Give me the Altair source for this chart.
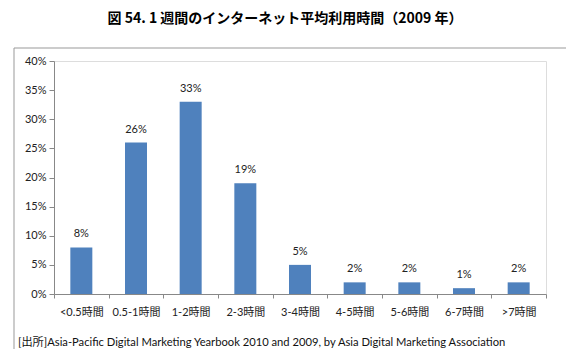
import altair as alt
import pandas as pd

categories = ["<0.5時間", "0.5-1時間", "1-2時間", "2-3時間", "3-4時間", "4-5時間", "5-6時間", "6-7時間", ">7時間"]
values = [8, 26, 33, 19, 5, 2, 2, 1, 2]
y_ticks = [0, 5, 10, 15, 20, 25, 30, 35, 40]
title_text = "図 54. 1 週間のインターネット平均利用時間（2009 年）"
footer_text = "[出所]Asia-Pacific Digital Marketing Yearbook 2010 and 2009,  by Asia Digital Marketing Association"

df = pd.DataFrame({"cat": categories, "val": values, "lbl": [f"{v}%" for v in values]})

FONT = "Lato, Noto Sans CJK JP, sans-serif"

x_enc = alt.X("cat:N", sort=categories, title=None,
              scale=alt.Scale(paddingInner=0, paddingOuter=0),
              axis=alt.Axis(labelAngle=0, tickBand="extent", labelFont=FONT, labelFontSize=11,
                            labelColor="#222", domainColor="#888", tickColor="#888",
                            tickSize=4, labelPadding=8))
y_enc = alt.Y("val:Q", title=None,
              scale=alt.Scale(domain=[0, 40]),
              axis=alt.Axis(values=y_ticks, labelExpr="datum.value + '%'",
                            labelOverlap=False, tickCount=9,
                            grid=False, labelFont=FONT, labelFontSize=11, labelColor="#222",
                            domainColor="#888", tickColor="#888", tickSize=5, labelPadding=3))

base = alt.Chart(df).encode(x=x_enc, y=y_enc)
bars = base.mark_bar(size=22, color="#4F81BD")
labels = base.mark_text(dy=-13, font=FONT, fontSize=11, color="#222").encode(text="lbl:N")

footer = alt.Chart(pd.DataFrame({"t": [footer_text]})).mark_text(
    align="left", baseline="middle", font=FONT, fontSize=11.2, color="#111").encode(
    x=alt.value(-36), y=alt.value(282), text="t:N")

frame = alt.Chart(pd.DataFrame({"a": [0]})).mark_rect(fill=None, stroke="#999", strokeWidth=1).encode(
    x=alt.value(-40), x2=alt.value(513), y=alt.value(-13), y2=alt.value(290))

chart = alt.layer(frame, bars, labels, footer).properties(
    width=492, height=233,
    autosize=alt.AutoSizeParams(type="none"),
    padding={"left": 46, "top": 53, "right": 20, "bottom": 55},
    title=alt.TitleParams(title_text, font="Noto Sans CJK JP", fontSize=14, fontWeight="bold",
                          anchor="middle", dx=-15, offset=22, color="#000"),
).configure_view(stroke=None).configure(background="white")

chart.save("out.html", embed_options={"renderer": "svg", "actions": False})
